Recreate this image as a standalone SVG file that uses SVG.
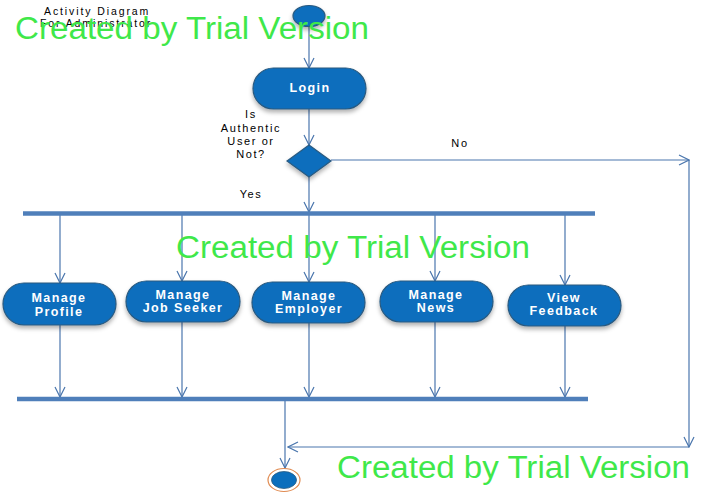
<svg xmlns="http://www.w3.org/2000/svg" width="707" height="500" viewBox="0 0 707 500">
<style>
.bg{fill:#ffffff}
.node{fill:#0a6ebd;stroke:#2a5a80;stroke-width:1.2;filter:url(#sh)}
.nt{font-family:"Liberation Sans",Arial,sans-serif;font-weight:bold;font-size:12.5px;letter-spacing:1.4px;fill:#ffffff;text-anchor:middle}
.lbl{font-family:"Liberation Sans",Arial,sans-serif;font-size:11px;letter-spacing:1.6px;fill:#000000}
.ttl{font-family:"Liberation Sans",Arial,sans-serif;font-size:10.5px;letter-spacing:1.9px;fill:#000000}
.c{fill:none;stroke:#4a76ad;stroke-width:1.2;marker-end:url(#ar)}
.bar{stroke:#4f7fba;stroke-width:4.5}
.wm{font-family:"Liberation Sans",Arial,sans-serif;font-size:31px;fill:#3fe84a}
</style>
<defs>
<filter id="sh" x="-20%" y="-20%" width="140%" height="160%">
<feDropShadow dx="0" dy="3" stdDeviation="2" flood-color="#000000" flood-opacity="0.3"/>
</filter>
<marker id="ar" viewBox="0 0 12 12" refX="11" refY="6" markerWidth="12" markerHeight="12" markerUnits="userSpaceOnUse" orient="auto">
<path d="M1,1 L11,6 L1,11" fill="none" stroke="#4a76ad" stroke-width="1.2"/>
</marker>
</defs>
<rect class="bg" x="0" y="0" width="707" height="500"/>
<text class="ttl" x="44" y="15">Activity Diagram</text>
<text class="ttl" x="40" y="27">For Administrator</text>
<g id="connectors">
<path class="c" d="M309,27 L309,68"/>
<path class="c" d="M309,109 L309,145"/>
<path class="c" d="M331,160 L689,160"/>
<path class="c" d="M689,160 L689,447"/>
<path class="c" d="M689,447 L288,447"/>
<path class="c" d="M309,177 L309,212"/>
<path class="c" d="M60,215 L60,283"/>
<path class="c" d="M182,215 L182,281"/>
<path class="c" d="M309,215 L309,282"/>
<path class="c" d="M435,215 L435,281"/>
<path class="c" d="M565,215 L565,285"/>
<path class="c" d="M60,325 L60,397"/>
<path class="c" d="M182,322 L182,397"/>
<path class="c" d="M309,323 L309,397"/>
<path class="c" d="M435,322 L435,397"/>
<path class="c" d="M565,326 L565,397"/>
<path class="c" d="M285,401 L285,468"/>
</g>
<g id="fork"><line class="bar" x1="23" y1="213.5" x2="595" y2="213.5"/></g>
<g id="join"><line class="bar" x1="17" y1="399" x2="588" y2="399"/></g>
<g id="start"><ellipse class="node" cx="309" cy="16" rx="16" ry="10.5"/></g>
<g id="login">
<rect class="node" x="253" y="68" width="113" height="41" rx="20.5"/>
<text class="nt" x="310" y="91.5">Login</text>
</g>
<g id="decision">
<path class="node" d="M309,145 L331,161 L309,177 L287,161 Z"/>
<text class="lbl" text-anchor="middle"><tspan x="251" y="118">Is</tspan><tspan x="251" y="131.5">Authentic</tspan><tspan x="251" y="145">User or</tspan><tspan x="251" y="158">Not?</tspan></text>
<text class="lbl" x="251" y="198" text-anchor="middle">Yes</text>
<text class="lbl" x="460" y="147" text-anchor="middle">No</text>
</g>
<g id="manage-profile">
<rect class="node" x="3" y="283" width="113" height="42" rx="21"/>
<text class="nt"><tspan x="59" y="302">Manage</tspan><tspan x="59" y="316">Profile</tspan></text>
</g>
<g id="manage-job-seeker">
<rect class="node" x="126" y="281" width="114" height="41" rx="20.5"/>
<text class="nt"><tspan x="183" y="299">Manage</tspan><tspan x="183" y="312">Job Seeker</tspan></text>
</g>
<g id="manage-employer">
<rect class="node" x="252" y="282" width="113" height="41" rx="20.5"/>
<text class="nt"><tspan x="309" y="300">Manage</tspan><tspan x="309" y="313">Employer</tspan></text>
</g>
<g id="manage-news">
<rect class="node" x="380" y="281" width="113" height="41" rx="20.5"/>
<text class="nt"><tspan x="436" y="299">Manage</tspan><tspan x="436" y="312">News</tspan></text>
</g>
<g id="view-feedback">
<rect class="node" x="508" y="285" width="113" height="41" rx="20.5"/>
<text class="nt"><tspan x="564" y="302">View</tspan><tspan x="564" y="315">Feedback</tspan></text>
</g>
<g id="end">
<ellipse cx="284" cy="480" rx="16" ry="11.5" fill="#ffffff" stroke="#e08a50" stroke-width="1.2"/>
<ellipse cx="284" cy="480" rx="12.5" ry="8.5" fill="#0a6ebd" stroke="#2a5a80" stroke-width="0.8"/>
</g>
<text class="wm" x="15" y="39" textLength="354" lengthAdjust="spacingAndGlyphs">Created by Trial Version</text>
<text class="wm" x="176" y="258" textLength="354" lengthAdjust="spacingAndGlyphs">Created by Trial Version</text>
<text class="wm" x="337" y="478" textLength="353" lengthAdjust="spacingAndGlyphs">Created by Trial Version</text>
</svg>
